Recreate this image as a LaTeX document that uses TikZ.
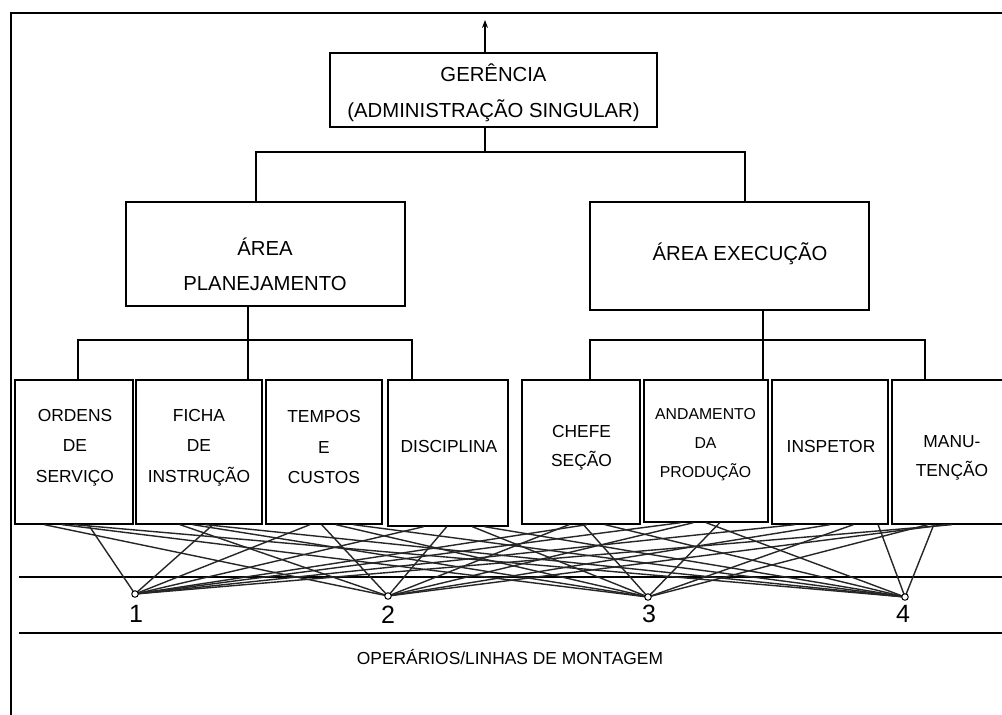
\documentclass[tikz,border=0pt]{standalone}
\usepackage{fontspec}
\setmainfont{Liberation Sans}
\usetikzlibrary{calc,arrows.meta}
\begin{document}
\begin{tikzpicture}[x=1pt,y=-1pt,
  frame/.style={line width=1.5pt},
  box/.style={draw,line width=1.3pt,inner sep=0pt,minimum width=#1},
  bigtxt/.style={align=center,inner sep=0pt,font=\fontsize{20.3}{36}\selectfont},
  smalltxt/.style={align=center,inner sep=0pt,font=\fontsize{17.4}{30.5}\selectfont},
  tinytxt/.style={align=center,inner sep=0pt,font=\fontsize{15.8}{29}\selectfont},
  wire/.style={line width=1.1pt},
  mesh/.style={line width=1.4pt,black!85},
  dot/.style={circle,draw,fill=white,inner sep=0pt,minimum size=6.5pt,line width=1pt},
  num/.style={inner sep=0pt,font=\fontsize{25}{25}\selectfont}]
\useasboundingbox (0,0) rectangle (1002,715);
\clip (0,0) rectangle (1002,715);
\fill[white] (0,0) rectangle (1002,715);
% outer frame
\coordinate (fBL) at (11,716);
\coordinate (fTL) at (11,13);
\coordinate (fTR) at (1003,13);
\draw[frame] (fBL) -- (fTL) -- (fTR);
% top level
\node[box=327pt,minimum height=74pt] (ger) at (493.5,90) {};
\node[bigtxt] (gerT) at (493.5,92.5) {GERÊNCIA\\(ADMINISTRAÇÃO SINGULAR)};
\coordinate (top) at (485,20);
\coordinate (j1) at (485,152);
\draw[wire,-{Stealth[length=8pt,width=6pt]}] (ger.north -| top) -- (top);
% areas
\node[box=279pt,minimum height=104pt] (plan) at (265.5,254) {};
\node[bigtxt,font=\fontsize{20.3}{35}\selectfont] (planT) at (265,264.5) {ÁREA\\PLANEJAMENTO};
\node[box=279pt,minimum height=108pt] (exe) at (729.5,256) {};
\node[bigtxt] (exeT) at (740,254) {ÁREA EXECUÇÃO};
\coordinate (jL) at (256,152);
\coordinate (jR) at (745,152);
\draw[wire] (ger.south -| j1) -- (j1);
\draw[wire] (plan.north -| jL) -- (jL) -- (jR) -- (exe.north -| jR);
% bottom boxes
\node[box=118pt,minimum height=144pt] (ord) at (74,452) {};
\node[box=126pt,minimum height=144pt] (fic) at (199,452) {};
\node[box=116pt,minimum height=144pt] (tem) at (324,452) {};
\node[box=120pt,minimum height=146pt] (dis) at (448,453) {};
\node[box=118pt,minimum height=144pt] (che) at (581,452) {};
\node[box=124pt,minimum height=142pt] (and) at (706,451) {};
\node[box=116pt,minimum height=144pt] (ins) at (830,452) {};
\node[box=120pt,minimum height=144pt] (man) at (952,452) {};
\node[smalltxt] (ordT) at (75,447.5) {ORDENS\\DE\\SERVIÇO};
\node[smalltxt] (ficT) at (199,447.5) {FICHA\\DE\\INSTRUÇÃO};
\node[smalltxt] (temT) at (324,447.5) {TEMPOS\\E\\CUSTOS};
\node[smalltxt] (disT) at (449,447) {DISCIPLINA};
\node[smalltxt,font=\fontsize{17.4}{29}\selectfont] (cheT) at (581.5,447.5) {CHEFE\\SEÇÃO};
\node[tinytxt] (andT) at (705.5,445) {ANDAMENTO\\DA\\PRODUÇÃO};
\node[smalltxt] (insT) at (831,447) {INSPETOR};
\node[smalltxt,font=\fontsize{17.4}{29}\selectfont] (manT) at (952,457.5) {MANU-\\TENÇÃO};
% planning tree
\coordinate (pj) at (248,340);
\coordinate (pL) at (78,340);
\coordinate (pR) at (412,340);
\draw[wire] (plan.south -| pj) -- (pj) -- (fic.north -| pj);
\draw[wire] (ord.north -| pL) -- (pL) -- (pR) -- (dis.north -| pR);
% execution tree
\coordinate (ej) at (763,340);
\coordinate (eL) at (590,340);
\coordinate (eR) at (925,340);
\draw[wire] (exe.south -| ej) -- (ej) -- (and.north -| ej);
\draw[wire] (che.north -| eL) -- (eL) -- (eR) -- (man.north -| eR);
% operator lines
\coordinate (h1L) at (19,577);
\coordinate (h1R) at (1003,577);
\coordinate (h2L) at (19,633);
\coordinate (h2R) at (1003,633);
\draw[wire] (h1L) -- (h1R);
\draw[frame] (h2L) -- (h2R);
% operators
\coordinate (d1) at (135,594);
\coordinate (d2) at (388,596);
\coordinate (d3) at (648,597);
\coordinate (d4) at (905,597);
\foreach \b/\fa/\fb/\fc/\fd in {ord/0.62/0.25/0.4/0.5, fic/0.61/0.35/0.45/0.55, tem/0.38/0.48/0.6/0.75, dis/0.3/0.49/0.7/0.8, che/0.55/0.4/0.52/0.7, and/0.3/0.4/0.61/0.5, ins/0.2/0.5/0.7/0.91, man/0.5/0.45/0.3/0.35}{
  \draw[mesh] ($(\b.south west)!\fa!(\b.south east)$) -- (d1);
  \draw[mesh] ($(\b.south west)!\fb!(\b.south east)$) -- (d2);
  \draw[mesh] ($(\b.south west)!\fc!(\b.south east)$) -- (d3);
  \draw[mesh] ($(\b.south west)!\fd!(\b.south east)$) -- (d4);
}
\node[dot] (o1) at (d1) {};
\node[dot] (o2) at (d2) {};
\node[dot] (o3) at (d3) {};
\node[dot] (o4) at (d4) {};
\node[num] (n1) at (136,614) {1};
\node[num] (n2) at (388,615) {2};
\node[num] (n3) at (649,614) {3};
\node[num] (n4) at (903,614) {4};
\node[smalltxt,font=\fontsize{17.4}{20}\selectfont] (opT) at (510,657) {OPERÁRIOS/LINHAS DE MONTAGEM};
\end{tikzpicture}
\end{document}
